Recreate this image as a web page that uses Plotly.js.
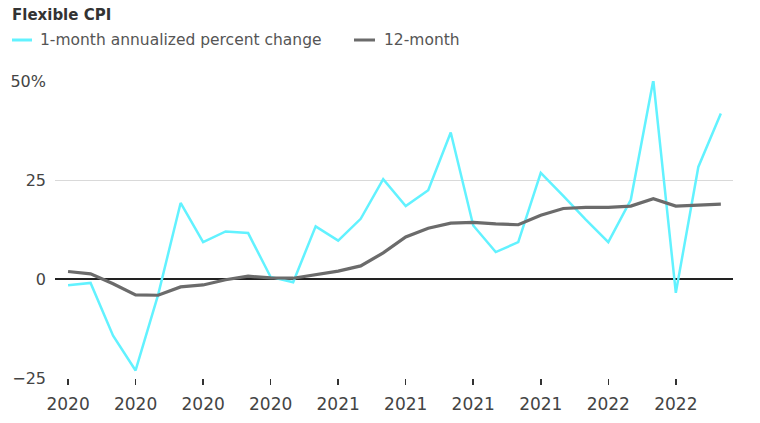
<!DOCTYPE html>
<html>
<head>
<meta charset="utf-8">
<script src="https://cdn.plot.ly/plotly-3.0.1.min.js"></script>
<style>html,body{margin:0;padding:0;background:#fff}#chart{width:760px;height:423px}</style>
</head>
<body>
<div id="chart"></div>
<script>
var months = ["2020-01","2020-02","2020-03","2020-04","2020-05","2020-06","2020-07","2020-08","2020-09","2020-10","2020-11","2020-12",
              "2021-01","2021-02","2021-03","2021-04","2021-05","2021-06","2021-07","2021-08","2021-09","2021-10","2021-11","2021-12",
              "2022-01","2022-02","2022-03","2022-04","2022-05","2022-06"];
var oneMonth = [-1.6,-1.0,-14.3,-23.1,-4.0,19.2,9.3,12.0,11.6,0.5,-0.8,13.3,9.7,15.2,25.2,18.4,22.4,37.0,13.5,6.8,9.3,26.8,21.0,15.0,9.3,20.0,50.2,-3.5,28.3,41.8];
var twelveMonth = [1.9,1.3,-1.2,-4.0,-4.1,-2.0,-1.5,-0.2,0.7,0.3,0.2,1.0,2.0,3.3,6.6,10.6,12.8,14.1,14.3,13.9,13.7,16.1,17.8,18.1,18.1,18.4,20.3,18.4,18.7,18.9];
var tickMonths = ["2020-01","2020-04","2020-07","2020-10","2021-01","2021-04","2021-07","2021-10","2022-01","2022-04"];
var tickLabels = ["2020","2020","2020","2020","2021","2021","2021","2021","2022","2022"];
var yTicks = [-25,0,25,50];
var yTickLabels = ["\u221225","0","25","50%"];
var seriesNames = ["1-month annualized percent change", "12-month"];
var seriesColors = ["#62f2ff", "#6b6b6b"];

var font = "DejaVu Sans, sans-serif";
var W = 760, H = 423, L = 55, R = 27, T = 81, B = 45;
var pw = W - L - R, ph = H - T - B;
function px(x) { return (x - L) / pw; }
function py(y) { return (H - B - y) / ph; }

var traces = [
  {x: months, y: oneMonth, type: "scatter", mode: "lines", name: seriesNames[0],
   line: {color: seriesColors[0], width: 2.5}},
  {x: months, y: twelveMonth, type: "scatter", mode: "lines", name: seriesNames[1],
   line: {color: seriesColors[1], width: 3.2}}
];

// custom legend (line sample + text)
var legendItems = [{x0: 12, x1: 32, tx: 38}, {x0: 354, x1: 375, tx: 382}];
var shapes = legendItems.map(function (it, i) {
  return {type: "line", xref: "paper", yref: "paper", x0: px(it.x0), x1: px(it.x1), y0: py(40), y1: py(40),
          line: {color: seriesColors[i], width: 3}};
});
var annotations = legendItems.map(function (it, i) {
  return {xref: "paper", yref: "paper", x: px(it.tx), y: py(40), xanchor: "left", yanchor: "middle",
          text: seriesNames[i], showarrow: false, font: {family: font, size: 15.5, color: "#555"}};
});

var layout = {
  width: W, height: H,
  margin: {l: L, r: R, t: T, b: B, autoexpand: false},
  paper_bgcolor: "#fff", plot_bgcolor: "#fff",
  font: {family: font, color: "#444", size: 15},
  title: {text: "<b>Flexible CPI</b>", x: 12/W, xref: "container", xanchor: "left",
          y: 1 - 15/H, yref: "container", yanchor: "middle",
          font: {family: font, size: 15, color: "#333"}},
  showlegend: false,
  shapes: shapes,
  annotations: annotations,
  xaxis: {type: "category", range: [-0.58, 29.54], tickmode: "array", tickvals: tickMonths, ticktext: tickLabels,
          ticks: "outside", ticklen: 6, tickwidth: 1.5, tickcolor: "#333", showgrid: false, zeroline: false,
          showline: false, ticklabelstandoff: 5, tickfont: {family: font, size: 17, color: "#444"}, fixedrange: true},
  yaxis: {range: [-25, 50], tickmode: "array", tickvals: yTicks, ticktext: yTickLabels,
          showgrid: true, gridcolor: "#d9d9d9", gridwidth: 1, zeroline: true, zerolinecolor: "#222", zerolinewidth: 1.4,
          ticks: "", ticklabelstandoff: 8, tickfont: {family: font, size: 16, color: "#444"}, showline: false, fixedrange: true}
};
Plotly.newPlot("chart", traces, layout, {displayModeBar: false, staticPlot: true});
</script>
</body>
</html>
